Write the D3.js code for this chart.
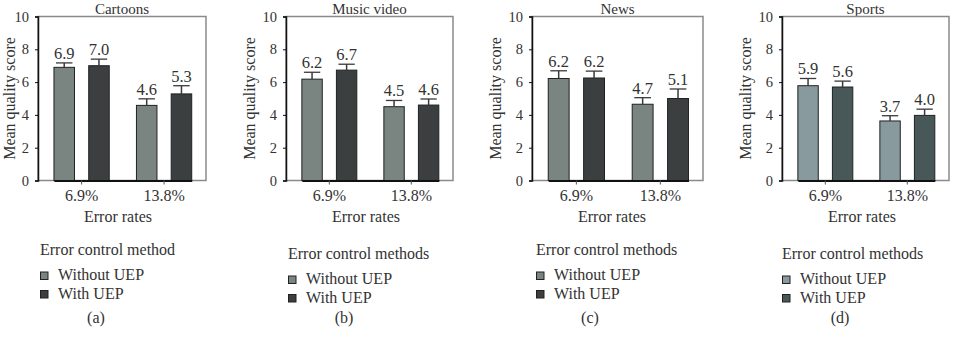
<!DOCTYPE html>
<html><head><meta charset="utf-8">
<script src="https://cdn.jsdelivr.net/npm/d3@7"></script>
<style>
html,body{margin:0;padding:0;background:#fff;}
svg{display:block;}
text{font-family:"Liberation Serif","Times New Roman",serif;fill:#333;}
</style></head>
<body>
<svg id="chart" width="955" height="342"></svg>
<script>
// ---- data ----
const panelTitles = ["Cartoons", "Music video", "News", "Sports"];
const errorRates = ["6.9%", "13.8%"];
const seriesNames = ["Without UEP", "With UEP"];
const withoutUEP = [[6.9, 4.58], [6.18, 4.5], [6.22, 4.65], [5.78, 3.63]];
const withUEP = [[7.0, 5.28], [6.73, 4.6], [6.25, 5.0], [5.7, 3.97]];
const withoutErr = [[0.27, 0.4], [0.42, 0.38], [0.47, 0.4], [0.44, 0.32]];
const withErr = [[0.4, 0.5], [0.36, 0.37], [0.42, 0.58], [0.36, 0.38]];
const withoutLabels = [["6.9", "4.6"], ["6.2", "4.5"], ["6.2", "4.7"], ["5.9", "3.7"]];
const withLabels = [["7.0", "5.3"], ["6.7", "4.6"], ["6.2", "5.1"], ["5.6", "4.0"]];
const legendTitles = ["Error control method", "Error control methods", "Error control methods", "Error control methods"];
const panelLetters = ["(a)", "(b)", "(c)", "(d)"];
const yTicks = [0, 2, 4, 6, 8, 10];
const yLabel = "Mean quality score";
const xLabel = "Error rates";

// ---- styles / layout ----
const colorsStd = ["#7a8582", "#3b3f3f"];
const colorsSports = ["#889a9e", "#485859"];
const layout = [
  {left: 38, width: 168, legY: 255, legX: 2, yLabX: -23.3},
  {left: 286, width: 167, legY: 259, legX: 2, yLabX: -31},
  {left: 532, width: 171, legY: 255, legX: 4, yLabX: -31},
  {left: 782, width: 167, legY: 259, legX: 0, yLabX: -31}
];
const plotTop = 16.5, plotBottom = 180.5;
const FS = "16px";

const svg = d3.select("#chart");

panelTitles.forEach((title, p) => {
  const L = layout[p];
  const g = svg.append("g").attr("transform", `translate(${L.left},0)`);
  const colors = p === 3 ? colorsSports : colorsStd;
  const y = d3.scaleLinear().domain([0, 10]).range([plotBottom, plotTop]);
  const x0 = d3.scaleBand().domain(errorRates)
    .range([L.width * 0.095, L.width * 0.915]).paddingInner(0.33).paddingOuter(0);
  const x1 = d3.scaleBand().domain(seriesNames)
    .range([0, x0.bandwidth()]).paddingInner(0.41).paddingOuter(0);

  const rows = [];
  errorRates.forEach((r, i) => {
    rows.push({rate: r, s: seriesNames[0], v: withoutUEP[p][i], e: withoutErr[p][i], lab: withoutLabels[p][i], c: colors[0]});
    rows.push({rate: r, s: seriesNames[1], v: withUEP[p][i], e: withErr[p][i], lab: withLabels[p][i], c: colors[1]});
  });

  // title (drawn first so the frame sits on top of any descender)
  g.append("text").attr("x", L.width / 2).attr("y", 13.6).attr("text-anchor", "middle")
    .style("font-size", "15px").text(title);

  // frame (top/right gray)
  g.append("rect").attr("x", 0).attr("y", plotTop).attr("width", L.width).attr("height", plotBottom - plotTop)
    .attr("fill", "none").attr("stroke", "#8a8a8a").attr("stroke-width", 1.5);

  // bars
  g.selectAll("rect.bar").data(rows).enter().append("rect").attr("class", "bar")
    .attr("x", d => x0(d.rate) + x1(d.s))
    .attr("y", d => y(d.v))
    .attr("width", x1.bandwidth())
    .attr("height", d => y(0) - y(d.v))
    .attr("fill", d => d.c)
    .attr("stroke", "#1e2222").attr("stroke-width", 1);

  // error bars
  const cx = d => x0(d.rate) + x1(d.s) + x1.bandwidth() / 2;
  g.selectAll("line.err").data(rows).enter().append("line")
    .attr("x1", cx).attr("x2", cx)
    .attr("y1", d => y(d.v)).attr("y2", d => y(d.v + d.e))
    .attr("stroke", "#3a3a3a").attr("stroke-width", 1.5);
  const capW = x1.bandwidth() * 0.8;
  g.selectAll("line.cap").data(rows).enter().append("line")
    .attr("x1", d => cx(d) - capW / 2).attr("x2", d => cx(d) + capW / 2)
    .attr("y1", d => y(d.v + d.e)).attr("y2", d => y(d.v + d.e))
    .attr("stroke", "#3a3a3a").attr("stroke-width", 1.3);

  // value labels
  g.selectAll("text.val").data(rows).enter().append("text")
    .attr("x", cx).attr("y", d => y(d.v + d.e) - 4)
    .attr("text-anchor", "middle").style("font-size", "16.5px")
    .text(d => d.lab);

  // y axis
  const yAxis = d3.axisLeft(y).tickValues(yTicks).tickSize(3).tickPadding(6).tickFormat(d3.format("d"));
  const ya = g.append("g").call(yAxis);
  ya.select(".domain").attr("stroke", "#111").attr("stroke-width", 1.5);
  ya.selectAll(".tick line").attr("stroke", "#111");
  ya.selectAll("text").style("font-size", "14.5px").style("font-family", "Liberation Serif").attr("fill", "#333");

  // x axis
  const xAxis = d3.axisBottom(x0).tickSize(4).tickPadding(5).tickSizeOuter(0);
  const xa = g.append("g").attr("transform", `translate(0,${plotBottom})`).call(xAxis);
  xa.select(".domain").attr("stroke", "#111").attr("stroke-width", 2);
  xa.selectAll(".tick line").attr("stroke", "#555");
  xa.selectAll("text").style("font-size", FS).style("font-family", "Liberation Serif").attr("fill", "#333");

  // y label
  g.append("text").attr("transform", `translate(${L.yLabX},${(plotTop + plotBottom) / 2}) rotate(-90)`)
    .attr("text-anchor", "middle").style("font-size", FS).text(yLabel);

  // x label
  g.append("text").attr("x", 80).attr("y", 222).attr("text-anchor", "middle")
    .style("font-size", FS).text(xLabel);

  // legend
  const lg = g.append("g").attr("transform", `translate(${L.legX},${L.legY})`);
  lg.append("text").attr("x", 0).attr("y", 0).style("font-size", FS).text(legendTitles[p]);
  seriesNames.forEach((s, i) => {
    lg.append("rect").attr("x", 0.5).attr("y", 17 + i * 18.5).attr("width", 7.5).attr("height", 7.5)
      .attr("fill", colors[i]).attr("stroke", "#222").attr("stroke-width", 1);
    lg.append("text").attr("x", 18).attr("y", 25 + i * 18.5).style("font-size", FS).text(s);
  });

  // panel letter
  g.append("text").attr("x", 58).attr("y", 323).attr("text-anchor", "middle")
    .style("font-size", FS).text(panelLetters[p]);
});
</script>
</body></html>
